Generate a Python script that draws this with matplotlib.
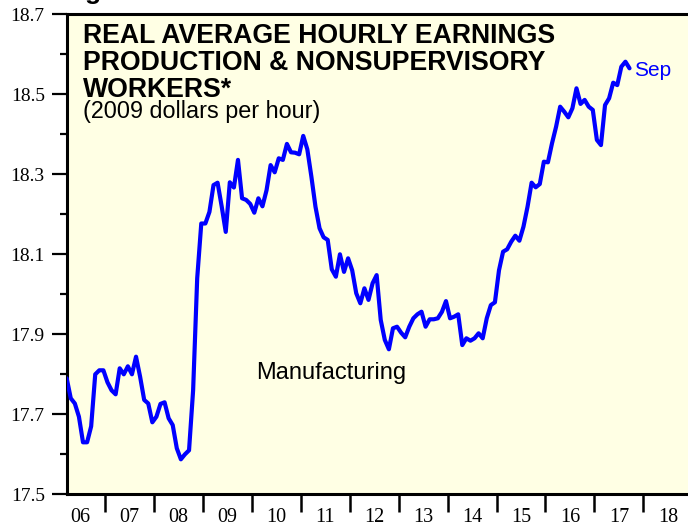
import matplotlib
matplotlib.use('Agg')
import matplotlib.pyplot as plt
import numpy as np

# ---------------- data ----------------
start_year = 2006
start_month = 3  # first observation: March 2006 (monthly series)
earnings = [
    17.79, 17.74, 17.727, 17.694, 17.63, 17.63, 17.67, 17.80, 17.81, 17.81,          # 2006 Mar-Dec
    17.78, 17.76, 17.75, 17.815, 17.80, 17.82, 17.80, 17.844, 17.794, 17.736, 17.727, 17.68,  # 2007
    17.694, 17.726, 17.73, 17.69, 17.673, 17.615, 17.5875, 17.60, 17.61, 17.76, 18.04, 18.177,  # 2008
    18.177, 18.206, 18.273, 18.279, 18.22, 18.156, 18.28, 18.267, 18.336, 18.24, 18.236, 18.226,  # 2009
    18.204, 18.24, 18.22, 18.26, 18.323, 18.305, 18.34, 18.336, 18.376, 18.355, 18.354, 18.35,  # 2010
    18.396, 18.3625, 18.294, 18.219, 18.165, 18.1425, 18.136, 18.0625, 18.044, 18.10, 18.056, 18.09,  # 2011
    18.06, 18.0025, 17.9775, 18.015, 17.986, 18.0275, 18.048, 17.936, 17.886, 17.8625, 17.915, 17.919,  # 2012
    17.904, 17.8925, 17.919, 17.94, 17.95, 17.9565, 17.919, 17.9375, 17.9375, 17.94, 17.956, 17.983,  # 2013
    17.94, 17.944, 17.95, 17.873, 17.89, 17.884, 17.89, 17.9025, 17.89, 17.94, 17.973, 17.98,  # 2014
    18.06, 18.1065, 18.1125, 18.1315, 18.1465, 18.134, 18.169, 18.219, 18.279, 18.2675, 18.2757, 18.3315,  # 2015
    18.33, 18.3775, 18.419, 18.469, 18.4565, 18.4425, 18.465, 18.515, 18.476, 18.486, 18.469, 18.461,  # 2016
    18.386, 18.373, 18.473, 18.49, 18.529, 18.523, 18.569, 18.5815, 18.565,  # 2017 Jan-Sep
]
year_boundaries = list(range(2007, 2019))
year_label_years = list(range(2006, 2019))
year_labels = ['06', '07', '08', '09', '10', '11', '12', '13', '14', '15', '16', '17', '18']
y_major = [17.5, 17.7, 17.9, 18.1, 18.3, 18.5, 18.7]
y_minor = [17.6, 17.8, 18.0, 18.2, 18.4, 18.6]

title_lines = ['REAL AVERAGE HOURLY EARNINGS', 'PRODUCTION & NONSUPERVISORY', 'WORKERS*']
subtitle = '(2009 dollars per hour)'
series_label = 'Manufacturing'
end_label = 'Sep'

# ---------------- figure ----------------
W, H = 688, 527
fig = plt.figure(figsize=(W / 100, H / 100), dpi=100)
fig.patch.set_facecolor('white')

left_px, bottom_px, top_px = 67, 494.3, 14.3
ax = fig.add_axes([left_px / W, 1 - bottom_px / H, 1 - left_px / W, (bottom_px - top_px) / H])
ax.set_facecolor('#FFFFE4')

months = np.arange(len(earnings))
x = start_year + (start_month - 1 + months + 0.6) / 12.0
ax.plot(x, earnings, color='#0000FF', lw=3.0, solid_joinstyle='round',
        solid_capstyle='round', zorder=3)

ax.set_xlim(2006.223, 2018.912)
ax.set_ylim(17.5, 18.7)

for s in ['left', 'top', 'bottom']:
    ax.spines[s].set_linewidth(2.2)
    ax.spines[s].set_color('black')
ax.spines['right'].set_visible(False)

serif = 'Liberation Serif'
sans = 'Liberation Sans'

ax.set_yticks(y_major)
ax.set_yticklabels([f'{v:.1f}' for v in y_major], fontfamily=serif, fontsize=14)
ax.set_yticks(y_minor, minor=True)
ax.tick_params(axis='y', which='major', direction='out', length=11, width=1.6, pad=5)
ax.tick_params(axis='y', which='minor', direction='out', length=5, width=1.6)

ax.set_xticks(year_boundaries)
ax.set_xticklabels([])
ax.set_xticks([y + 0.5 for y in year_label_years], minor=True)
ax.set_xticklabels(year_labels, minor=True, fontfamily=serif, fontsize=14.5)
ax.tick_params(axis='x', which='major', direction='out', length=13, width=1.8)
ax.tick_params(axis='x', which='minor', length=0, pad=10)

# ---------------- texts ----------------
tx = 83 / W
for line, base in zip(title_lines, [43.3, 70.0, 96.6]):
    fig.text(tx, 1 - base / H, line, fontsize=19.2, fontweight='bold', family=sans,
             ha='left', va='baseline', color='black')
fig.text(tx, 1 - 117.6 / H, subtitle, fontsize=16.8, family=sans,
         ha='left', va='baseline', color='black')
fig.text(256 / W, 1 - 379 / H, series_label, fontsize=17, family=sans,
         ha='left', va='baseline', color='black')
fig.text(634 / W, 1 - 76 / H, end_label, fontsize=15, family=sans,
         ha='left', va='baseline', color='#0000FF')
# bottom of a cut-off heading glyph at the very top (as in the reference)
fig.text(85 / W, 1 + 1.0 / H, 'g', fontsize=19, fontweight='bold', family=sans,
         ha='left', va='baseline', color='black')

fig.savefig('out.png', dpi=100)
